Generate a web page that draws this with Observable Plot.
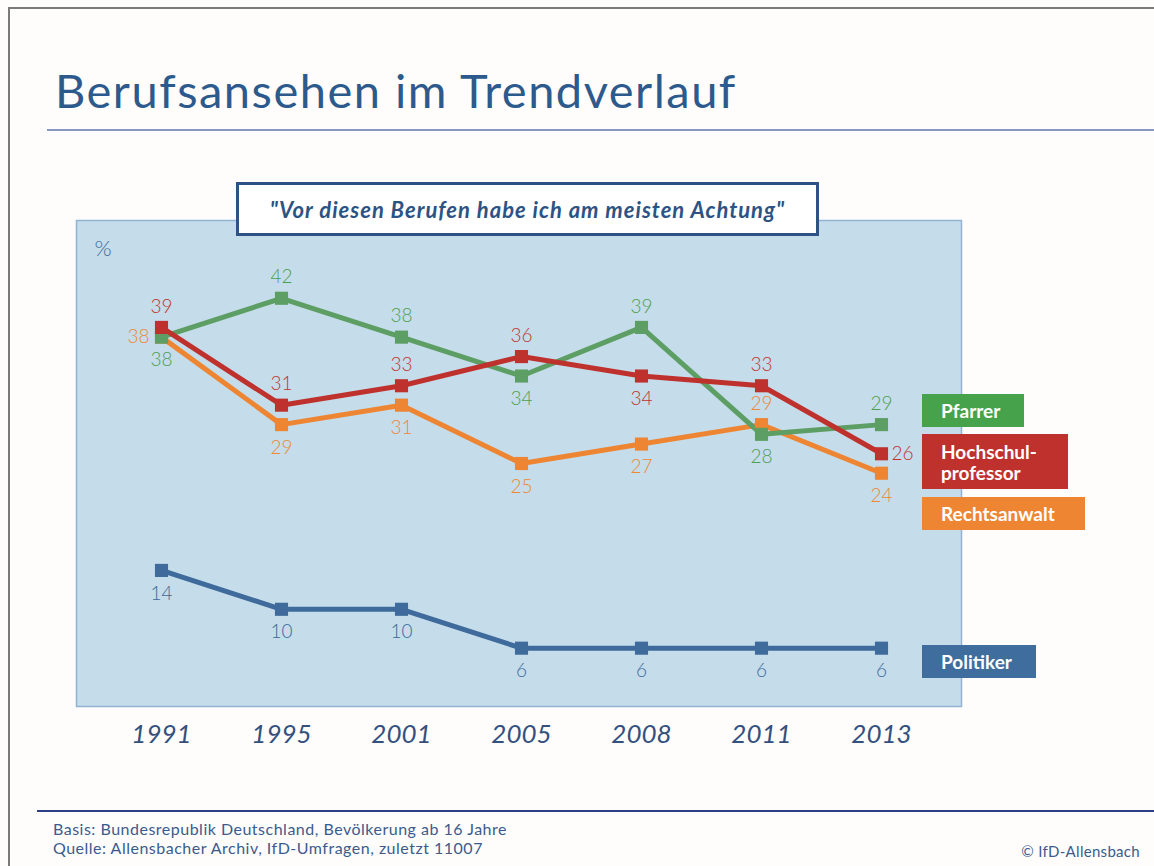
<!DOCTYPE html>
<html>
<head>
<meta charset="utf-8">
<script src="https://cdn.jsdelivr.net/npm/d3@7"></script>
<script src="https://cdn.jsdelivr.net/npm/@observablehq/plot@0.6"></script>
<style>
  html, body { margin: 0; padding: 0; background: #fefefe; }
  #page { position: relative; width: 1154px; height: 866px; overflow: hidden; font-family: Lato, "Open Sans", sans-serif; background: #fefdfc; }
  #border { position: absolute; left: 8px; top: 7px; width: 1200px; height: 900px; border-left: 2px solid #7a7a7a; border-top: 2px solid #7a7a7a; }
  #title { position: absolute; left: 55px; top: 62px; font-size: 47px; color: #2d5a8c; font-weight: 400; white-space: nowrap; letter-spacing: 1.5px; }
  #titleRule { position: absolute; left: 47px; right: 0; top: 129px; height: 2px; background: #8797bf; }
  #chart { position: absolute; left: 0; top: 140px; }
  #question { position: absolute; left: 236px; top: 182px; width: 583px; height: 54px; box-sizing: border-box; border: 3px solid #2d5384; background: #fff; color: #2d5384; font-style: italic; font-weight: 700; font-size: 22px; letter-spacing: 1px; display: flex; align-items: center; justify-content: center; white-space: nowrap; }
  .legend { position: absolute; left: 922px; color: #fff; font-weight: 700; font-size: 19px; line-height: 21px; padding-left: 19px; box-sizing: border-box; display: flex; align-items: center; }
  #footRule { position: absolute; left: 37px; right: 0; top: 810px; height: 2px; background: #2c3f86; }
  #foot { position: absolute; left: 53px; top: 819px; font-size: 16px; letter-spacing: 0.5px; line-height: 19px; color: #3b5b8c; }
  #copy { position: absolute; right: 14px; top: 842px; font-size: 15px; letter-spacing: 0.3px; color: #3b5b8c; }
  #chart svg g[aria-label="x-axis tick label"] text { font-style: italic; }
</style>
</head>
<body>
<div id="page">
  <div id="border"></div>
  <div id="title">Berufsansehen im Trendverlauf</div>
  <div id="titleRule"></div>
  <div id="chart"></div>
  <div id="question">"Vor diesen Berufen habe ich am meisten Achtung"</div>
  <div id="legends"></div>
  <div id="footRule"></div>
  <div id="foot">Basis: Bundesrepublik Deutschland, Bevölkerung ab 16 Jahre<br>Quelle: Allensbacher Archiv, IfD-Umfragen, zuletzt 11007</div>
  <div id="copy">© IfD-Allensbach</div>
</div>
<script>
// ---- data ----
const years = ["1991", "1995", "2001", "2005", "2008", "2011", "2013"];
const pfarrer = [38, 42, 38, 34, 39, 28, 29];
const hochschulprofessor = [39, 31, 33, 36, 34, 33, 26];
const rechtsanwalt = [38, 29, 31, 25, 27, 29, 24];
const politiker = [14, 10, 10, 6, 6, 6, 6];
const seriesNames = ["Pfarrer", "Hochschulprofessor", "Rechtsanwalt", "Politiker"];
const legendLabels = ["Pfarrer", "Hochschul-<br>professor", "Rechtsanwalt", "Politiker"];

// ---- styling ----
const lineColors = ["#5c9e63", "#bf312d", "#ee8533", "#3e6b9b"];
const labelColors = ["#4f9f51", "#c0352f", "#ee8836", "#3d6a9b"];
const legendColors = ["#47a34b", "#bf312c", "#ee8533", "#3e6d9e"];
const placement = {
  Pfarrer: ["below", "above", "above", "below", "above", "below", "above"],
  Hochschulprofessor: ["above", "above", "above", "above", "below", "above", "right"],
  Rechtsanwalt: ["left", "below", "below", "below", "below", "above", "below"],
  Politiker: ["below", "below", "below", "below", "below", "below", "below"]
};
const valuesBySeries = {
  Pfarrer: pfarrer,
  Hochschulprofessor: hochschulprofessor,
  Rechtsanwalt: rechtsanwalt,
  Politiker: politiker
};
const drawOrder = ["Politiker", "Rechtsanwalt", "Pfarrer", "Hochschulprofessor"];

const rows = drawOrder.flatMap(s => years.map((year, i) => ({
  year, value: valuesBySeries[s][i], series: s, pos: placement[s][i]
})));

const offsets = { above: [0, -21], below: [0, 23], left: [-23, 0], right: [21, 0] };
const labelMarks = Object.entries(offsets).map(([pos, [dx, dy]]) =>
  Plot.text(rows.filter(d => d.pos === pos), {
    x: "year", y: "value", text: d => String(d.value),
    fill: d => labelColors[seriesNames.indexOf(d.series)],
    dx, dy, fontSize: 19, fontWeight: 300, textAnchor: "middle", lineAnchor: "middle"
  })
);

const chart = Plot.plot({
  width: 1154,
  height: 650,
  marginLeft: 76,
  marginRight: 193,
  marginTop: 80,
  marginBottom: 84,
  style: { fontFamily: "Lato, 'Open Sans', sans-serif", background: "transparent" },
  x: { type: "point", domain: years, range: [160, 882], padding: 0, label: null },
  y: { domain: [0, 50], axis: null },
  color: { domain: seriesNames, range: lineColors },
  marks: [
    Plot.frame({ fill: "#c5dcea", stroke: "#93b3d2", strokeWidth: 1.5 }),
    Plot.axisX({ tickSize: 0, tickPadding: 18, fontSize: 26, fontStyle: "italic", fontWeight: 400, color: "#33507e", label: null }),
    Plot.text(["%"], { frameAnchor: "top-left", dx: 18, dy: 20, text: d => d, fontSize: 22, fontWeight: 300, fill: "#3d6a9b" }),
    Plot.line(rows, { x: "year", y: "value", z: "series", stroke: "series", strokeWidth: 5, strokeLinejoin: "miter" }),
    Plot.dot(rows, { x: "year", y: "value", fill: "series", symbol: "square", r: 7.4 }),
    ...labelMarks
  ]
});
document.getElementById("chart").appendChild(chart);

// legend boxes
const legendBoxes = [
  { top: 394, height: 33, width: 102 },
  { top: 434, height: 55, width: 146 },
  { top: 497, height: 33, width: 163 },
  { top: 645, height: 33, width: 114 }
];
const legendHost = document.getElementById("legends");
seriesNames.forEach((s, i) => {
  const el = document.createElement("div");
  el.className = "legend";
  el.style.top = legendBoxes[i].top + "px";
  el.style.height = legendBoxes[i].height + "px";
  el.style.width = legendBoxes[i].width + "px";
  el.style.background = legendColors[i];
  el.innerHTML = legendLabels[i];
  legendHost.appendChild(el);
});
</script>
</body>
</html>
